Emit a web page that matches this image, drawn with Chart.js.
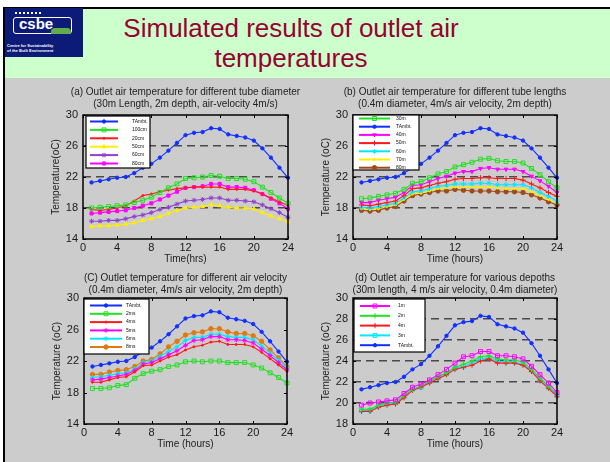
<!DOCTYPE html>
<html>
<head>
<meta charset="utf-8">
<script src="https://cdn.jsdelivr.net/npm/chart.js@4/dist/chart.umd.min.js"></script>
<style>
  html, body { margin: 0; padding: 0; background: #fff; }
  #slide { position: relative; width: 610px; height: 462px; overflow: hidden; background: #fff; font-family: Arial, "Liberation Sans", sans-serif; }
  #topline { position: absolute; left: 3px; top: 7px; width: 607px; height: 2px; background: #000; }
  #leftline { position: absolute; left: 3px; top: 7px; width: 2px; height: 455px; background: #000; }
  #header { position: absolute; left: 5px; top: 9px; width: 605px; height: 69px; background: #ccffcc; }
  #bodyArea { position: absolute; left: 5px; top: 78px; width: 605px; height: 384px; background: #cccccc; }
  #logo { position: absolute; left: 5px; top: 8px; width: 78px; height: 49px; background: #0c1b78; overflow: hidden; }
  .title { position: absolute; left: 91px; width: 400px; text-align: center; color: #990033; font-size: 26px; line-height: 30px; white-space: nowrap; }
  canvas { position: absolute; }
</style>
</head>
<body>
<div id="slide">
  <div id="header"></div>
  <div id="bodyArea"></div>
  <div id="topline"></div>
  <div id="leftline"></div>
  <div id="logo">
    <div style="position:absolute;left:10px;top:4px;width:26px;height:5px;border-top:2px dotted #fff;"></div>
    <div style="position:absolute;left:8px;top:9px;width:57px;height:15px;border:1.5px solid #fff;border-radius:3px;"></div>
    <div style="position:absolute;left:46px;top:20px;width:20px;height:6px;background:#5fae4a;border-radius:4px 4px 0 0;"></div>
    <div style="position:absolute;left:14px;top:7px;color:#fff;font:bold 15px Arial;line-height:18px;">csbe</div>
    <div style="position:absolute;left:2px;top:35px;width:76px;color:#fff;font:bold 4px Arial;line-height:5px;">Centre for Sustainability<br>of the Built Environment</div>
  </div>
  <div class="title" style="top:13px;">Simulated results of outlet air</div>
  <div class="title" style="top:43px;">temperatures</div>

  <canvas id="chartA" width="291" height="182" style="left:40px;top:85px;"></canvas>
  <canvas id="chartB" width="290" height="182" style="left:310px;top:85px;"></canvas>
  <canvas id="chartC" width="289" height="180" style="left:41px;top:272px;"></canvas>
  <canvas id="chartD" width="290" height="180" style="left:310px;top:272px;"></canvas>
</div>

<script>
// time axis (hours)
const hours = [1, 2, 3, 4, 5, 6, 7, 8, 9, 10, 11, 12, 13, 14, 15, 16, 17, 18, 19, 20, 21, 22, 23, 24];

// ambient air temperature, same curve on every panel
const tAmb = [21.3, 21.5, 21.7, 21.9, 22.0, 22.5, 23.2, 23.7, 24.5, 25.4, 26.4, 27.4, 27.7, 27.8, 28.3, 28.2, 27.5, 27.3, 27.1, 26.7, 25.7, 24.5, 23.2, 21.9];

// (a) tube diameter
const dia100 = [18.0, 18.1, 18.2, 18.3, 18.4, 18.7, 19.0, 19.4, 20.0, 20.6, 21.1, 21.8, 21.9, 22.0, 22.2, 22.1, 21.8, 21.8, 21.7, 21.4, 20.7, 20.0, 19.3, 18.6];
const dia20 = [17.8, 17.7, 17.8, 18.0, 18.3, 18.9, 19.6, 19.8, 20.1, 20.3, 20.5, 20.6, 20.7, 20.7, 20.7, 20.7, 20.4, 20.4, 20.4, 20.2, 19.8, 19.3, 18.8, 18.3];
const dia50 = [15.6, 15.7, 15.7, 15.8, 15.9, 16.1, 16.4, 16.6, 16.9, 17.3, 17.7, 18.0, 18.1, 18.2, 18.4, 18.3, 18.1, 18.0, 18.0, 17.9, 17.4, 17.0, 16.6, 16.2];
const dia60 = [16.3, 16.3, 16.4, 16.4, 16.6, 16.9, 17.1, 17.4, 17.8, 18.1, 18.5, 18.9, 19.0, 19.1, 19.3, 19.3, 19.0, 19.0, 18.9, 18.8, 18.4, 17.9, 17.4, 16.8];
const dia80 = [17.3, 17.4, 17.5, 17.6, 17.7, 18.0, 18.3, 18.6, 19.1, 19.6, 20.1, 20.6, 20.7, 20.8, 21.1, 21.1, 20.7, 20.7, 20.6, 20.3, 19.8, 19.2, 18.6, 17.9];

// (b) tube length
const len30 = [19.2, 19.3, 19.5, 19.7, 19.9, 20.4, 21.2, 21.4, 21.9, 22.4, 22.7, 23.3, 23.6, 23.9, 24.3, 24.4, 24.1, 24.0, 24.0, 23.8, 23.1, 22.3, 21.4, 20.6];
const len40 = [18.7, 18.7, 19.0, 19.2, 19.4, 20.0, 20.9, 21.0, 21.4, 21.8, 22.1, 22.5, 22.7, 22.7, 23.1, 23.2, 23.0, 23.0, 23.0, 22.7, 22.1, 21.5, 20.8, 20.0];
const len50 = [18.4, 18.3, 18.5, 18.7, 18.9, 19.6, 20.5, 20.6, 20.9, 21.2, 21.4, 21.7, 21.8, 21.8, 21.9, 21.9, 21.8, 21.8, 21.8, 21.6, 21.1, 20.6, 20.0, 19.5];
const len60 = [18.1, 18.0, 18.2, 18.4, 18.6, 19.3, 20.1, 20.2, 20.5, 20.8, 20.9, 21.1, 21.1, 21.1, 21.2, 21.2, 21.0, 21.0, 21.0, 21.0, 20.6, 20.0, 19.5, 18.9];
const len70 = [17.9, 17.8, 17.9, 18.2, 18.4, 19.1, 19.8, 19.9, 20.2, 20.5, 20.6, 20.7, 20.7, 20.7, 20.7, 20.7, 20.6, 20.5, 20.5, 20.5, 20.1, 19.6, 19.1, 18.6];
const len80 = [17.7, 17.6, 17.7, 18.0, 18.2, 18.9, 19.6, 19.8, 20.0, 20.2, 20.2, 20.4, 20.3, 20.2, 20.2, 20.2, 20.1, 20.1, 20.1, 20.0, 19.7, 19.3, 18.8, 18.4];

// (c) air velocity
const vel2 = [18.5, 18.5, 18.6, 18.9, 19.0, 19.8, 20.4, 20.7, 20.9, 21.3, 21.5, 21.9, 22.0, 21.9, 22.0, 22.0, 21.8, 21.8, 21.8, 21.5, 21.1, 20.5, 19.9, 19.2];
const vel4 = [19.3, 19.3, 19.6, 19.9, 20.0, 20.6, 21.4, 21.5, 22.0, 22.5, 22.8, 23.4, 23.8, 24.0, 24.4, 24.5, 24.1, 24.1, 24.1, 23.8, 23.1, 22.3, 21.5, 20.7];
const vel5 = [19.6, 19.7, 19.9, 20.1, 20.3, 20.8, 21.6, 21.8, 22.3, 22.8, 23.3, 24.0, 24.6, 24.7, 25.1, 25.1, 24.7, 24.7, 24.6, 24.3, 23.5, 22.7, 21.8, 20.9];
const vel6 = [19.9, 20.0, 20.2, 20.4, 20.5, 21.0, 21.8, 22.0, 22.6, 23.2, 23.8, 24.6, 25.0, 25.0, 25.4, 25.4, 25.1, 25.0, 25.0, 24.7, 23.9, 23.0, 22.1, 21.1];
const vel8 = [20.3, 20.3, 20.6, 20.8, 20.9, 21.3, 22.0, 22.2, 22.9, 23.8, 24.5, 25.3, 25.6, 25.7, 26.1, 26.1, 25.7, 25.5, 25.5, 25.2, 24.5, 23.4, 22.4, 21.3];

// (d) burial depth
const dep1 = [19.8, 20.0, 20.1, 20.2, 20.3, 20.9, 21.5, 21.8, 22.2, 22.7, 23.2, 23.8, 24.4, 24.5, 24.9, 24.9, 24.5, 24.5, 24.4, 24.2, 23.5, 22.7, 21.9, 21.0];
const dep2 = [19.4, 19.4, 19.8, 20.0, 20.1, 20.7, 21.3, 21.6, 22.1, 22.5, 22.9, 23.4, 23.7, 24.0, 24.4, 24.5, 24.2, 24.1, 24.1, 23.9, 23.2, 22.4, 21.6, 20.8];
const dep4 = [19.2, 19.2, 19.6, 19.8, 19.9, 20.5, 21.2, 21.5, 21.9, 22.3, 22.7, 23.2, 23.4, 23.6, 24.0, 24.2, 23.8, 23.8, 23.8, 23.6, 23.0, 22.1, 21.4, 20.6];
const dep3 = [19.3, 19.3, 19.7, 19.9, 20.0, 20.6, 21.3, 21.5, 22.0, 22.4, 22.8, 23.3, 23.5, 23.8, 24.2, 24.3, 24.0, 23.9, 23.9, 23.7, 23.1, 22.2, 21.5, 20.7];

Chart.defaults.font.family = 'Arial, "Liberation Sans", sans-serif';
Chart.defaults.color = '#222';

const BLUE = '#1030ff', GREEN = '#22e022', RED = '#ff1a1a', YELLOW = '#ffee00',
      PURPLE = '#9040d0', MAGENTA = '#ff00ff', CYAN = '#00e8ff', ORANGE = '#e07a10', BROWN = '#a04a1a';

// marker presets
const MARK = {
    dot:   { pointStyle: 'circle',   pointRadius: 1.7, fill: true,  bw: 1 },
    small: { pointStyle: 'circle',   pointRadius: 1,   fill: true,  bw: 1 },
    big:   { pointStyle: 'circle',   pointRadius: 2.2, fill: true,  bw: 1 },
    sq:    { pointStyle: 'rect',     pointRadius: 2.8, fill: false, bw: 1 },
    sqf:   { pointStyle: 'rect',     pointRadius: 2.2, fill: true,  bw: 1 },
    tri:   { pointStyle: 'triangle', pointRadius: 2.2, fill: true,  bw: 1 },
    triD:  { pointStyle: 'triangle', pointRadius: 2.2, fill: true,  bw: 1, rot: 180 },
    star:  { pointStyle: 'star',     pointRadius: 2.4, fill: false, bw: 1 },
    plus:  { pointStyle: 'cross',    pointRadius: 2.6, fill: false, bw: 1 }
};

function series(label, values, color, mark) {
    const m = MARK[mark];
    return {
        label,
        data: hours.map((h, i) => ({ x: h, y: values[i] })),
        borderColor: color,
        borderWidth: 1.1,
        pointStyle: m.pointStyle,
        pointRadius: m.pointRadius,
        pointRotation: m.rot || 0,
        pointBorderWidth: m.bw,
        pointBorderColor: color,
        pointBackgroundColor: m.fill ? color : 'rgba(0,0,0,0)',
        tension: 0,
        clip: false
    };
}

// box, inward tick marks
const framePlugin = {
    id: 'frame',
    afterDatasetsDraw(chart) {
        const { ctx, chartArea: a, scales: { x, y } } = chart;
        ctx.save();
        ctx.strokeStyle = '#000';
        ctx.lineWidth = 1;
        ctx.beginPath();
        x.ticks.forEach(t => {
            const px = Math.round(x.getPixelForValue(t.value)) + 0.5;
            ctx.moveTo(px, a.bottom); ctx.lineTo(px, a.bottom - 3);
            ctx.moveTo(px, a.top); ctx.lineTo(px, a.top + 3);
        });
        y.ticks.forEach(t => {
            const py = Math.round(y.getPixelForValue(t.value)) + 0.5;
            ctx.moveTo(a.left, py); ctx.lineTo(a.left + 3, py);
            ctx.moveTo(a.right, py); ctx.lineTo(a.right - 3, py);
        });
        ctx.stroke();
        ctx.lineWidth = 1.5;
        ctx.strokeRect(a.left, a.top, a.right - a.left, a.bottom - a.top);
        ctx.restore();
    }
};

// matlab-like legend box inside the axes
const boxLegend = {
    id: 'boxLegend',
    afterDraw(chart, args, o) {
        const { ctx, chartArea: a } = chart;
        const x0 = a.left + o.dx, y0 = a.top + o.dy;
        ctx.save();
        ctx.fillStyle = '#fff';
        ctx.fillRect(x0, y0, o.w, o.h);
        ctx.strokeStyle = '#000';
        ctx.lineWidth = 1.2;
        ctx.strokeRect(x0, y0, o.w, o.h);
        o.order.forEach((idx, r) => {
            const ds = chart.data.datasets[idx];
            const cy = y0 + o.first + r * o.rowH;
            ctx.strokeStyle = ds.borderColor;
            ctx.lineWidth = 2;
            ctx.beginPath();
            ctx.moveTo(x0 + o.l0, cy); ctx.lineTo(x0 + o.l1, cy);
            ctx.stroke();
            ctx.fillStyle = ds.pointBackgroundColor;
            ctx.lineWidth = ds.pointBorderWidth;
            Chart.helpers.drawPoint(ctx, {
                pointStyle: ds.pointStyle, radius: ds.pointRadius,
                rotation: ds.pointRotation, borderWidth: ds.pointBorderWidth
            }, x0 + (o.l0 + o.l1) / 2, cy);
            ctx.fillStyle = '#111';
            ctx.font = '5px Arial, "Liberation Sans", sans-serif';
            ctx.textBaseline = 'middle';
            ctx.textAlign = 'left';
            ctx.fillText(ds.label, x0 + o.tx, cy);
        });
        ctx.restore();
    }
};

function makeChart(id, titleLines, xTitle, yTitle, yMin, yMax, yStep, dashed, datasets, legend, titlePad) {
    return new Chart(document.getElementById(id), {
        type: 'line',
        data: { datasets },
        plugins: [framePlugin, boxLegend],
        options: {
            responsive: false,
            animation: false,
            devicePixelRatio: 1,
            layout: { padding: 0 },
            plugins: {
                legend: { display: false },
                tooltip: { enabled: false },
                title: {
                    display: true, text: titleLines, color: '#222',
                    font: { size: 10, weight: 'normal', lineHeight: 1.2 },
                    padding: titlePad
                },
                boxLegend: legend
            },
            scales: {
                x: {
                    type: 'linear', min: 0, max: 24,
                    ticks: { stepSize: 4, padding: 2, color: '#1a1a1a', font: { size: 11 } },
                    grid: { display: false, drawTicks: false },
                    border: { display: false },
                    title: { display: true, text: xTitle, color: '#222', font: { size: 10, lineHeight: 1.2 }, padding: { top: 0, bottom: 2 } },
                    afterFit: s => { s.height = 28; }
                },
                y: {
                    type: 'linear', min: yMin, max: yMax,
                    ticks: { stepSize: yStep, padding: 5, color: '#1a1a1a', font: { size: 11 } },
                    grid: {
                        display: dashed, drawTicks: false, lineWidth: 1.5,
                        color: c => (c.tick.value === yMin || c.tick.value === yMax) ? 'rgba(0,0,0,0)' : '#4a4a4a'
                    },
                    border: { display: false, dash: [8, 5] },
                    title: { display: true, text: yTitle, color: '#222', font: { size: 10, lineHeight: 1.2 }, padding: { top: 10, bottom: 0 } },
                    afterFit: s => { s.width = 43; }
                },
                // empty spacer on the right so the title centres over the axes
                ySpacer: {
                    position: 'right',
                    ticks: { display: false },
                    grid: { display: false, drawTicks: false },
                    border: { display: false },
                    afterFit: s => { s.width = 43; }
                }
            }
        }
    });
}

makeChart('chartA',
    ['(a) Outlet air temperature for different tube diameter', '(30m Length, 2m depth, air-velocity 4m/s)'],
    'Time(hrs)', 'Temperature(oC)', 14, 30, 4, true,
    [
        series('TAmbt.', tAmb, BLUE, 'dot'),
        series('100cm', dia100, GREEN, 'sq'),
        series('20cm', dia20, RED, 'small'),
        series('50cm', dia50, YELLOW, 'tri'),
        series('60cm', dia60, PURPLE, 'star'),
        series('80cm', dia80, MAGENTA, 'sqf')
    ],
    { dx: 3, dy: 1, w: 64, h: 52, first: 5.5, rowH: 8.4, l0: 4, l1: 32, tx: 46, order: [0, 1, 2, 3, 4, 5] },
    { top: 1, bottom: 5 });

makeChart('chartB',
    ['(b) Outlet air temperature for different tube lengths', '(0.4m diameter, 4m/s air velocity, 2m depth)'],
    'Time (hours)', 'Temperature (oC)', 14, 30, 4, true,
    [
        series('30m', len30, GREEN, 'sq'),
        series('TAmbt.', tAmb, BLUE, 'dot'),
        series('40m', len40, MAGENTA, 'triD'),
        series('50m', len50, RED, 'plus'),
        series('60m', len60, CYAN, 'star'),
        series('70m', len70, YELLOW, 'small'),
        series('80m', len80, BROWN, 'big')
    ],
    { dx: 0, dy: 0, w: 66, h: 55, first: 3.5, rowH: 8.2, l0: 6, l1: 37, tx: 43, order: [0, 1, 2, 3, 4, 5, 6] },
    { top: 1, bottom: 5 });

makeChart('chartC',
    ['(C) Outlet temperature for different air velocity', '(0.4m diameter, 4m/s air velocity, 2m depth)'],
    'Time (hours)', 'Temperature (oC)', 14, 30, 4, false,
    [
        series('TAmbt.', tAmb, BLUE, 'dot'),
        series('2ms', vel2, GREEN, 'sq'),
        series('4ms', vel4, RED, 'small'),
        series('5ms', vel5, MAGENTA, 'star'),
        series('6ms', vel6, CYAN, 'star'),
        series('8ms', vel8, ORANGE, 'big')
    ],
    { dx: 0, dy: 1, w: 65, h: 55, first: 6.5, rowH: 8.3, l0: 6, l1: 38, tx: 42, order: [0, 1, 2, 3, 4, 5] },
    { top: 0.5, bottom: 1.5 });

makeChart('chartD',
    ['(d) Outlet air temperature for various depoths', '(30m length, 4 m/s air velocity, 0.4m diameter)'],
    'Time (hours)', 'Temperature (oC)', 18, 30, 2, true,
    [
        series('1m', dep1, MAGENTA, 'sq'),
        series('2m', dep2, GREEN, 'plus'),
        series('4m', dep4, RED, 'plus'),
        series('3m', dep3, CYAN, 'sq'),
        series('TAmbt.', tAmb, BLUE, 'dot')
    ],
    { dx: 1, dy: 1, w: 71, h: 53, first: 7, rowH: 9.8, l0: 6, l1: 36, tx: 44, order: [0, 1, 2, 3, 4] },
    { top: 0.5, bottom: 1.5 });
</script>
</body>
</html>
